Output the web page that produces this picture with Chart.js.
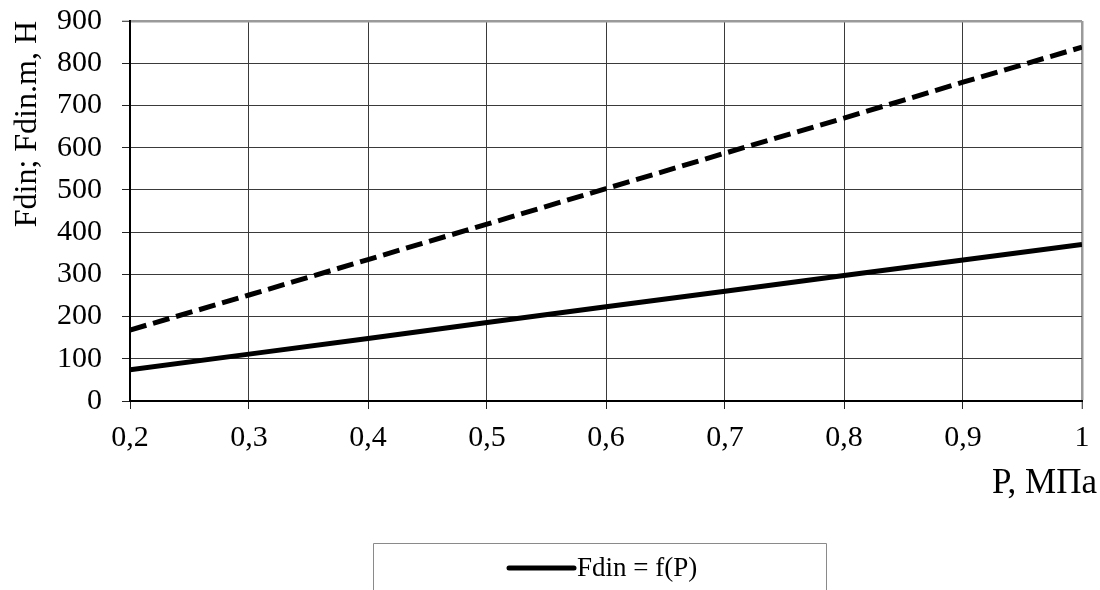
<!DOCTYPE html>
<html>
<head>
<meta charset="utf-8">
<script src="https://cdn.jsdelivr.net/npm/chart.js@4/dist/chart.umd.min.js"></script>
<style>
html,body{margin:0;padding:0;background:#fff;}
#wrap{width:1100px;height:590px;position:relative;}
</style>
</head>
<body>
<div id="wrap"><canvas id="c"></canvas></div>
<script>
const pressure = [0.2, 0.3, 0.4, 0.5, 0.6, 0.7, 0.8, 0.9, 1.0];
const fdin     = [74, 111, 148, 186, 223, 260, 297, 334, 371];
const fdinM    = [168, 251, 335, 419, 503, 587, 670, 755, 838];
const seriesLabels = ['Fdin = f(P)', 'Fdin.m = f(P)'];
const yTitle = 'Fdin; Fdin.m, H';
const xTitle = 'P, МПа';

const FONT = '"Liberation Serif", "Times New Roman", serif';

const toPts = (xs, ys) => xs.map((x, i) => ({x: x, y: ys[i]}));

const customDraw = {
  id: 'customDraw',
  afterDraw(chart) {
    const ctx = chart.ctx;
    const xs = chart.scales.x;
    ctx.save();
    // x axis title
    ctx.fillStyle = '#000';
    ctx.font = '35px ' + FONT;
    ctx.textAlign = 'right';
    ctx.textBaseline = 'alphabetic';
    ctx.fillText(xTitle, xs.right + 15, 493);
    // legend box
    ctx.strokeStyle = '#8a8a8a';
    ctx.lineWidth = 1;
    ctx.beginPath();
    ctx.moveTo(373.5, 600);
    ctx.lineTo(373.5, 543.5);
    ctx.lineTo(826.5, 543.5);
    ctx.lineTo(826.5, 600);
    ctx.stroke();
    // legend item (first series)
    const ds = chart.data.datasets[0];
    ctx.strokeStyle = ds.borderColor;
    ctx.lineWidth = 5;
    ctx.lineCap = 'round';
    ctx.beginPath();
    ctx.moveTo(509, 568);
    ctx.lineTo(574, 568);
    ctx.stroke();
    ctx.fillStyle = '#000';
    ctx.font = '27px ' + FONT;
    ctx.textAlign = 'left';
    ctx.textBaseline = 'middle';
    ctx.fillText(ds.label, 577, 569);
    ctx.restore();
  }
};

new Chart(document.getElementById('c'), {
  type: 'line',
  data: {
    datasets: [
      {
        label: seriesLabels[0],
        data: toPts(pressure, fdin),
        borderColor: '#000',
        borderWidth: 5,
        pointRadius: 0,
        tension: 0,
        fill: false
      },
      {
        label: seriesLabels[1],
        data: toPts(pressure, fdinM),
        borderColor: '#000',
        borderWidth: 5,
        borderDash: [17, 7],
        pointRadius: 0,
        tension: 0,
        fill: false
      }
    ]
  },
  options: {
    responsive: true,
    maintainAspectRatio: false,
    animation: false,
    devicePixelRatio: 1,
    layout: { padding: { left: 0, right: 18, top: 21, bottom: 0 } },
    plugins: {
      legend: { display: false },
      tooltip: { enabled: false }
    },
    scales: {
      x: {
        type: 'linear',
        min: 0.2,
        max: 1.0,
        afterFit(scale) {
          scale.height = 189;
          scale.paddingLeft = 0; scale.paddingRight = 0;
        },
        ticks: {
          stepSize: 0.1,
          padding: 11,
          color: '#000',
          font: { family: FONT, size: 30 },
          maxRotation: 0,
          autoSkip: false,
          callback: (v) => {
            const r = Math.round(v * 10) / 10;
            return String(r).replace('.', ',');
          }
        },
        grid: {
          color: (c) => (c.tick && Math.abs(c.tick.value - 1) < 1e-9) ? '#9a9a9a' : '#3a3a3a',
          lineWidth: (c) => (c.tick && Math.abs(c.tick.value - 1) < 1e-9) ? 2.5 : 1,
          tickLength: 8,
          tickColor: '#222',
          tickWidth: 1
        },
        border: { color: '#000', width: 2 }
      },
      y: {
        min: 0,
        max: 900,
        afterFit(scale) {
          scale.width = 130;
          scale.paddingTop = 0; scale.paddingBottom = 0;
        },
        ticks: {
          stepSize: 100,
          padding: 20,
          color: '#000',
          font: { family: FONT, size: 30 }
        },
        title: {
          display: true,
          text: yTitle,
          align: 'end',
          color: '#000',
          font: { family: FONT, size: 32 },
          padding: { top: 8, bottom: 0 }
        },
        grid: {
          color: (c) => (c.tick && c.tick.value === 900) ? '#9a9a9a' : '#3a3a3a',
          lineWidth: (c) => (c.tick && c.tick.value === 900) ? 2.5 : 1,
          tickLength: 8,
          tickColor: '#222',
          tickWidth: 1
        },
        border: { color: '#000', width: 2 }
      }
    }
  },
  plugins: [customDraw]
});
</script>
</body>
</html>
